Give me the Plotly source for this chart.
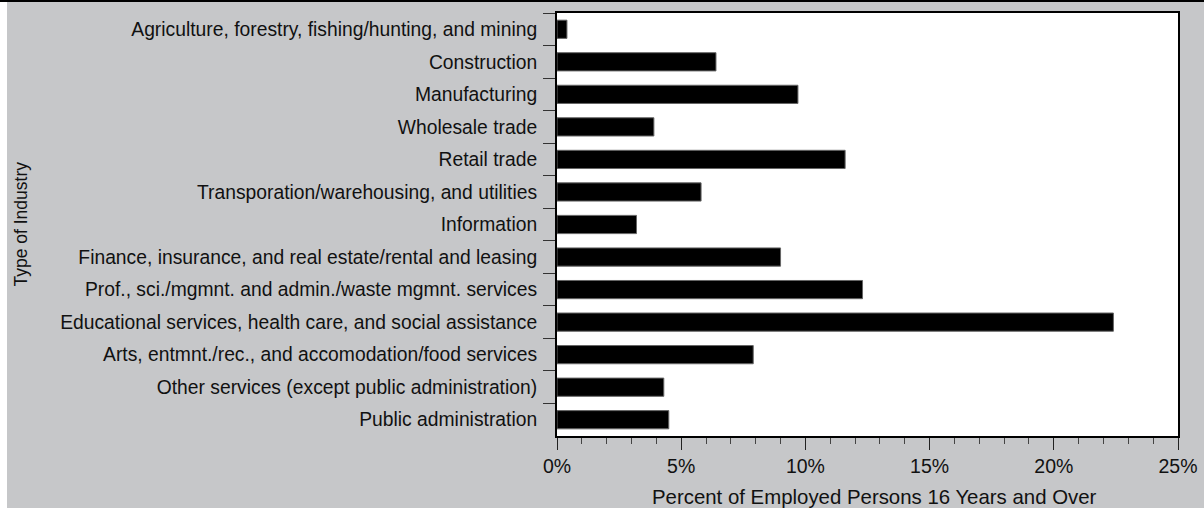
import plotly.graph_objects as go

industries = [
    "Agriculture, forestry, fishing/hunting, and mining",
    "Construction",
    "Manufacturing",
    "Wholesale trade",
    "Retail trade",
    "Transporation/warehousing, and utilities",
    "Information",
    "Finance, insurance, and real estate/rental and leasing",
    "Prof., sci./mgmnt. and admin./waste mgmnt. services",
    "Educational services, health care, and social assistance",
    "Arts, entmnt./rec., and accomodation/food services",
    "Other services (except public administration)",
    "Public administration",
]
percent = [0.4, 6.4, 9.7, 3.9, 11.6, 5.8, 3.2, 9.0, 12.3, 22.4, 7.9, 4.3, 4.5]
x_ticks = [0, 5, 10, 15, 20, 25]
x_tick_labels = ["0%", "5%", "10%", "15%", "20%", "25%"]

W, H = 1204, 508
L, R, T, B = 557, 26, 13, 72
pw = W - L - R
ph = H - T - B

FONT = "Liberation Sans, Arial, sans-serif"
BG = "#c6c7c9"

fig = go.Figure(go.Bar(
    x=percent, y=industries, orientation="h",
    marker=dict(color="black", line=dict(color="#666666", width=1)),
    hoverinfo="x+y",
))

fig.update_layout(
    width=W, height=H,
    margin=dict(l=L, r=R, t=T, b=B, autoexpand=False),
    paper_bgcolor=BG, plot_bgcolor="white",
    font=dict(family=FONT, size=19, color="#111111"),
    bargap=0.44,
    showlegend=False,
    xaxis=dict(
        range=[0, 25], tickvals=x_ticks, ticktext=x_tick_labels,
        ticks="outside", ticklen=12, tickwidth=1, tickcolor="#222222",
        minor=dict(dtick=1, ticks="outside", ticklen=6, tickcolor="#444444", tickwidth=1),
        showgrid=False, zeroline=False,
        showline=True, linecolor="black", linewidth=2, mirror=True,
        tickfont=dict(size=19.5),
    ),
    yaxis=dict(
        type="category", autorange="reversed",
        tickson="boundaries", ticks="outside", ticklen=12, tickwidth=1, tickcolor="#333333",
        showgrid=False, zeroline=False,
        showline=True, linecolor="black", linewidth=2, mirror=True,
        tickfont=dict(size=19.3),
        ticklabelstandoff=14,
    ),
    shapes=[
        dict(type="rect", xref="paper", yref="paper",
             x0=(0 - L) / pw, x1=(7 - L) / pw, y0=-B / ph - 0.01, y1=1 + T / ph + 0.01,
             fillcolor="white", line=dict(width=0), layer="below"),
        dict(type="line", xref="paper", yref="paper",
             x0=(0 - L) / pw, x1=(W - L) / pw, y0=1 + (T - 1) / ph, y1=1 + (T - 1) / ph,
             line=dict(color="black", width=2)),
    ],
    annotations=[
        dict(text="Type of Industry", xref="paper", yref="paper",
             x=(20 - L) / pw, y=0.5, textangle=-90, showarrow=False,
             xanchor="center", yanchor="middle", font=dict(size=17.5)),
        dict(text="Percent of Employed Persons 16 Years and Over", xref="paper", yref="paper",
             x=(874 - L) / pw, y=-(497 - T - ph) / ph, showarrow=False,
             xanchor="center", yanchor="middle", font=dict(size=20.4)),
    ],
)

fig.write_html(
    "out.html",
    config={"displayModeBar": False},
    post_script="document.body.style.margin='0';document.body.style.padding='0';",
)
